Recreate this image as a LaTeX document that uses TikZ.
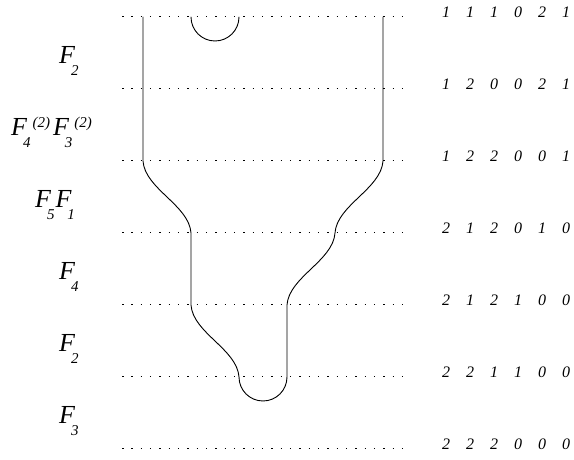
\documentclass[tikz,border=0pt]{standalone}
\usepackage{fontspec}
\setmainfont{Liberation Serif}
\usetikzlibrary{positioning}

\newcommand{\subsz}{\fontsize{15pt}{15pt}\selectfont}
\newcommand{\Fsub}[1]{F\kern-4pt\raisebox{-12pt}{\subsz #1}}
\newcommand{\Fsubsup}[2]{F\kern-4pt\raisebox{-12pt}{\subsz #1}\kern2pt\raisebox{8pt}{\subsz #2}}
\newcommand{\digitrow}[6]{\makebox[24pt]{#1}\makebox[24pt]{#2}\makebox[24pt]{#3}\makebox[24pt]{#4}\makebox[24pt]{#5}\makebox[24pt]{#6}}

\begin{document}
\begin{tikzpicture}[x=1pt,y=1pt,
  level/.style={line width=1pt,dash pattern=on 1.5pt off 7.83pt},
  strand/.style={line width=.9pt,line cap=round},
  oplabel/.style={anchor=base west,inner sep=0pt,font=\fontsize{26pt}{26pt}\selectfont\itshape},
  digits/.style={anchor=west,inner sep=0pt,font=\fontsize{16pt}{16pt}\selectfont\itshape}]
\useasboundingbox (0,0) rectangle (574,460);
% dotted levels
\coordinate (a0) at (122,443); \coordinate (b0) at (402,443);
\coordinate (a1) at (122,371); \coordinate (b1) at (402,371);
\coordinate (a2) at (122,299); \coordinate (b2) at (402,299);
\coordinate (a3) at (122,227); \coordinate (b3) at (402,227);
\coordinate (a4) at (122,155); \coordinate (b4) at (402,155);
\coordinate (a5) at (122,83);  \coordinate (b5) at (402,83);
\coordinate (a6) at (122,11);  \coordinate (b6) at (402,11);
\draw[level] (a0)--(b0);
\draw[level] (a1)--(b1);
\draw[level] (a2)--(b2);
\draw[level] (a3)--(b3);
\draw[level] (a4)--(b4);
\draw[level] (a5)--(b5);
\draw[level] (a6)--(b6);
% strands
\coordinate (s0) at (143,443);
\coordinate (s1) at (143,299);
\coordinate (s2) at (191,227);
\coordinate (s3) at (191,155);
\coordinate (s4) at (239,83);
\coordinate (s5) at (287,83);
\coordinate (s6) at (287,155);
\coordinate (s7) at (335,227);
\coordinate (s8) at (383,299);
\coordinate (s9) at (383,443);
\coordinate (c0) at (191,443);
\draw[strand] (s0)--(s1) .. controls (145,271) and (189,255) .. (s2)--(s3)
  .. controls (193,127) and (237,111) .. (s4)
  arc[start angle=180,end angle=360,radius=24pt] (s5)--(s6)
  .. controls (289,183) and (333,199) .. (s7)
  .. controls (337,255) and (381,271) .. (s8)--(s9);
\draw[strand] (c0) arc[start angle=180,end angle=360,radius=24pt];
% operators
\node[oplabel] (l1) at (59,396) {\Fsub{2}};
\node[oplabel] (l2) at (11,324) {\Fsubsup{4}{(2)}\kern3pt\Fsubsup{3}{(2)}};
\node[oplabel] (l3) at (35,252) {\Fsub{5}\kern1pt\Fsub{1}};
\node[oplabel] (l4) at (59,180) {\Fsub{4}};
\node[oplabel] (l5) at (59,108) {\Fsub{2}};
\node[oplabel] (l6) at (59,36)  {\Fsub{3}};
% states
\node[digits] (r0) at (434,448) {\digitrow{1}{1}{1}{0}{2}{1}};
\node[digits] (r1) at (434,376) {\digitrow{1}{2}{0}{0}{2}{1}};
\node[digits] (r2) at (434,304) {\digitrow{1}{2}{2}{0}{0}{1}};
\node[digits] (r3) at (434,232) {\digitrow{2}{1}{2}{0}{1}{0}};
\node[digits] (r4) at (434,160) {\digitrow{2}{1}{2}{1}{0}{0}};
\node[digits] (r5) at (434,88)  {\digitrow{2}{2}{1}{1}{0}{0}};
\node[digits] (r6) at (434,16)  {\digitrow{2}{2}{2}{0}{0}{0}};
\end{tikzpicture}
\end{document}
